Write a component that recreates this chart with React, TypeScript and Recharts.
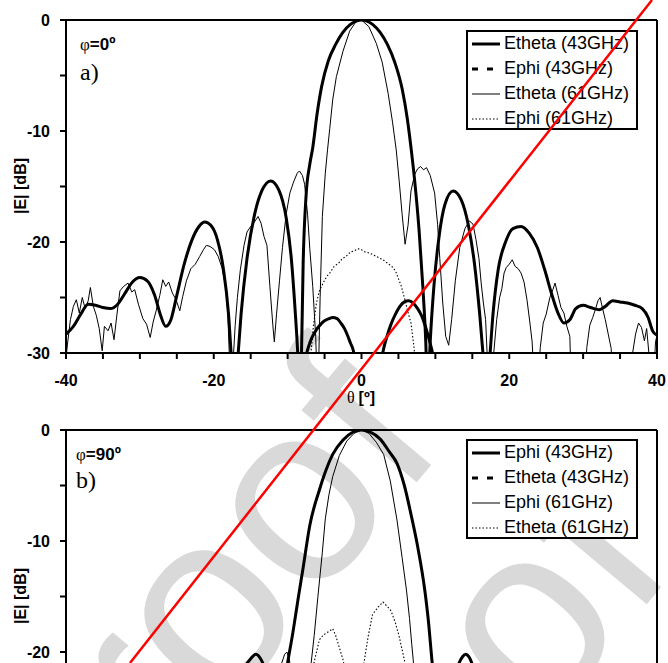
import { LineChart, Line, XAxis, YAxis, ReferenceLine } from 'recharts';

const SANS = '"Liberation Sans", Arial, sans-serif';
const SERIF = '"Liberation Serif", "Times New Roman", serif';

type Row = [number, number | null];

const X_TICKS = [-40, -35, -30, -25, -20, -15, -10, -5, 0, 5, 10, 15, 20, 25, 30, 35, 40];
const Y_TICKS = [0, -5, -10, -15, -20, -25, -30];

// phi = 0 deg cut, theta [deg] vs |E| [dB]
const ETHETA_43_PHI0: Row[] = [
  [-40, -28.3], [-39, -27.6], [-38, -26.5], [-37, -25.6], [-36, -25.7], [-35, -25.9], [-34, -26.0],
  [-33, -25.6], [-32, -24.6], [-31, -23.6], [-30, -23.2], [-29, -23.5], [-28, -24.8], [-27.2, -26.6],
  [-26.5, -27.6], [-25.8, -27.0], [-25, -24.8], [-24, -22.0], [-23, -19.9], [-22, -18.6], [-21.2, -18.2],
  [-20.4, -18.5], [-19.5, -19.8], [-18.7, -22.4], [-18.0, -26.5], [-17.6, -30.5], [-17.2, -34],
  [-16.8, -31], [-16.3, -26.5], [-15.5, -21.5], [-14.5, -17.6], [-13.5, -15.4], [-12.3, -14.5],
  [-11.2, -15.3], [-10.2, -17.8], [-9.5, -21.5], [-9.0, -26], [-8.6, -30.5], [-8.4, -34],
  [-8.15, -31], [-7.9, -22], [-7.5, -15.8], [-7, -13], [-6.6, -11.5], [-6, -8.4], [-5.4, -6.0],
  [-4.5, -3.7], [-3.5, -2.2], [-2.5, -1.1], [-1.5, -0.4], [0, 0], [1.5, -0.4], [2.5, -1.1],
  [3.5, -2.2], [4.5, -3.8], [5.5, -6.2], [6.2, -8.9], [6.7, -11.5], [7.2, -14.5], [7.8, -19],
  [8.3, -24], [8.7, -29], [8.95, -34], [9.3, -29], [9.8, -24], [10.5, -19.5], [11.3, -16.6],
  [12.4, -15.4], [13.5, -16.2], [14.5, -18.6], [15.3, -22], [16, -26.5], [16.5, -30.5], [16.9, -34],
  [17.3, -31], [17.8, -26.5], [18.5, -22.5], [19.5, -20], [20.5, -18.8], [21.6, -18.6], [22.7, -19.2],
  [23.8, -20.5], [24.8, -22.5], [25.7, -24.6], [26.6, -26.4], [27.4, -27.3], [28.2, -27.0], [29, -26.0],
  [30, -25.7], [31, -25.9], [32.2, -26.1], [33, -25.8], [34, -25.3], [35, -25.4], [36, -25.5],
  [37, -25.7], [38, -26.0], [38.8, -26.8], [39.4, -28.0], [40, -28.4],
];

const EPHI_43_PHI0: Row[] = [
  [-7.8, -31], [-7.2, -29.5], [-6.7, -28.6], [-6.1, -27.9], [-5.5, -27.4], [-5, -27.1], [-4.4, -26.9],
  [-3.9, -26.8], [-3.3, -26.9], [-2.8, -27.3], [-2.3, -27.8], [-1.9, -28.4], [-1.5, -29.1], [-1.1, -29.8],
  [-0.8, -31], [1, null], [2.6, -31], [3.0, -29.6], [3.5, -28.4], [4.0, -27.4], [4.6, -26.5],
  [5.2, -25.8], [5.8, -25.4], [6.4, -25.3], [7.0, -25.5], [7.6, -26.0], [8.1, -26.6], [8.6, -27.5],
  [9.0, -28.4], [9.4, -29.4], [9.8, -30.5],
];

const ETHETA_61_PHI0: Row[] = [
  [-40, -30.5], [-39.8, -29.2], [-39.4, -27], [-39, -25.8], [-38.6, -25.2], [-38.2, -26.4], [-37.8, -25.0],
  [-37.4, -26.0], [-37, -25.3], [-36.7, -24.1], [-36.3, -25.8], [-35.9, -26.6], [-35.5, -27.8],
  [-35.1, -29.8], [-34.8, -27.6], [-34.3, -28.0], [-33.9, -27.3], [-33.5, -28.8], [-33.1, -26.5],
  [-32.7, -24.4], [-32.2, -24.0], [-31.6, -23.7], [-31.1, -24.5], [-30.7, -24.3], [-30.2, -25.6],
  [-29.6, -26.9], [-29.1, -27.4], [-28.6, -28.6], [-28.2, -27.2], [-27.8, -26.2], [-27.3, -24.8],
  [-26.9, -23.4], [-26.5, -24.0], [-26.1, -23.6], [-25.6, -24.6], [-25.1, -25.2], [-24.6, -26.2],
  [-24.2, -24.9], [-23.7, -23.5], [-23.1, -22.4], [-22.5, -22.0], [-21.9, -21.3], [-21.4, -20.7],
  [-21.0, -20.3], [-20.5, -20.4], [-19.9, -20.7], [-19.4, -21.3], [-18.9, -22.3], [-18.4, -24.0],
  [-18.1, -26.4], [-17.9, -30], [-17.7, -33], [-17.4, -31], [-17.1, -27.5], [-16.8, -25], [-16.4, -22.5],
  [-15.9, -20.3], [-15.5, -19.1], [-15, -18.6], [-14.5, -18.2], [-14, -17.7], [-13.6, -18.3],
  [-13.2, -19.5], [-12.8, -20.3], [-12.4, -24], [-12, -27.5], [-11.8, -29], [-11.5, -26.5],
  [-11.1, -23.5], [-10.7, -20.5], [-10.2, -17.5], [-9.7, -15.6], [-9.2, -14.6], [-8.7, -13.8],
  [-8.4, -13.6], [-8.0, -14.0], [-7.7, -14.8], [-7.3, -17.5], [-7.0, -20.6], [-6.6, -24], [-6.2, -28.5],
  [-6.0, -33], [-5.8, -31], [-5.6, -25], [-5.3, -17.7], [-4.9, -13.8], [-4.6, -11.7], [-4.3, -9.8],
  [-3.9, -7.2], [-3.4, -5.1], [-2.5, -2.8], [-1.6, -1.0], [-0.8, -0.2], [0, 0], [1, -0.6], [2, -2.1],
  [2.8, -3.8], [3.6, -6.6], [4.2, -9.2], [4.7, -11.7], [5.1, -14.5], [5.5, -17.5], [5.9, -20.2],
  [6.3, -18.5], [6.7, -15.4], [7.2, -13.9], [7.6, -13.4], [8.0, -13.2], [8.4, -13.5], [8.8, -13.3],
  [9.3, -14.0], [9.9, -15.6], [10.3, -18.4], [10.6, -21.5], [11.0, -25.5], [11.4, -28.5], [11.8, -29.3],
  [12.2, -27], [12.7, -23.5], [13.3, -20.5], [14, -18.8], [14.6, -18.1], [15.1, -18.4], [15.5, -19.8],
  [15.9, -21.5], [16.2, -23.7], [16.5, -25.5], [16.8, -27], [17.0, -30], [17.2, -33], [17.6, -33],
  [17.9, -30], [18.3, -27], [18.7, -25], [19.0, -24.2], [19.3, -22.8], [19.6, -22.3], [20.0, -22.0],
  [20.4, -21.6], [20.8, -22.2], [21.2, -22.4], [21.6, -22.8], [22.0, -23.6], [22.4, -25.2],
  [22.8, -27.3], [23.1, -29], [23.4, -33], [23.9, -33], [24.2, -29.5], [24.6, -27.3], [25.0, -26.5],
  [25.5, -25.0], [25.9, -24.3], [26.2, -23.7], [26.6, -24.8], [27.0, -25.9], [27.4, -26.4],
  [27.8, -27.6], [28.2, -28.5], [28.4, -33], [30.2, -33], [30.5, -29.5], [30.9, -27.5], [31.3, -26.8],
  [31.7, -26.0], [32.0, -25.3], [32.3, -25.0], [32.6, -25.9], [33.0, -27.0], [33.4, -28.3],
  [33.8, -29.6], [34.0, -33], [36.4, -33], [36.7, -30], [37.1, -28.3], [37.5, -27.3], [37.9, -27.7],
  [38.3, -28.9], [38.6, -27.8], [38.9, -30], [39.1, -33], [39.5, -33], [39.8, -29], [40, -28.4],
];

const EPHI_61_PHI0: Row[] = [
  [-7.2, -31], [-6.8, -29.7], [-6.5, -27.5], [-6.1, -25.5], [-5.7, -24.4], [-5.2, -23.7], [-4.7, -23.1],
  [-4.3, -22.8], [-3.7, -22.2], [-3.1, -21.9], [-2.6, -21.5], [-2.1, -21.3], [-1.5, -20.9], [-1.0, -20.8],
  [-0.5, -20.6], [0, -20.7], [0.5, -20.9], [1.1, -21.0], [1.7, -21.2], [2.3, -21.4], [2.9, -21.6],
  [3.5, -21.9], [4.1, -22.2], [4.6, -22.6], [5.0, -23.3], [5.4, -24.0], [5.8, -25.0], [6.1, -25.8],
  [6.4, -26.6], [6.7, -27.3], [6.9, -28.4], [7.1, -29.4], [7.3, -31],
];

// phi = 90 deg cut
const EPHI_43_PHI90: Row[] = [
  [-17, -23.5], [-16, -21.6], [-15, -20.6], [-14.3, -20.2], [-13.5, -20.8], [-12.8, -22], [-12, -23.6],
  [-11.2, -25.5], [-10.6, -23.8], [-10, -21], [-9.3, -18.3], [-8.6, -15.3], [-7.9, -12.4], [-7.0, -8.6],
  [-5.7, -5.4], [-4.8, -3.6], [-3.9, -2.2], [-2.5, -0.9], [-1.2, -0.2], [0, 0], [1.2, -0.2], [2.5, -0.8],
  [3.8, -2.0], [4.8, -3.0], [5.8, -5.0], [6.7, -7.6], [7.6, -10.5], [8.6, -14.6], [9.1, -17.5],
  [9.5, -20.5], [9.9, -23], [10.6, -25.8], [11.5, -25], [12.3, -23], [13.2, -21], [13.7, -20.4],
  [14.1, -20.2], [14.6, -20.5], [15.2, -21.5], [16, -23.5],
];

const ETHETA_43_PHI90: Row[] = [];

const EPHI_61_PHI90: Row[] = [
  [-11.3, -23], [-10.8, -21], [-10.4, -20.2], [-10.1, -20.0], [-9.8, -20.6], [-9.3, -22.5], [-8.5, -25],
  [-7.6, -24], [-7.2, -22.6], [-6.8, -20.9], [-6.4, -18.5], [-5.9, -15], [-5.3, -11], [-4.9, -8.0],
  [-4.4, -5.8], [-3.9, -4.2], [-3.0, -2.3], [-2, -1.0], [-1, -0.3], [0, 0], [1, -0.3], [2, -1.1],
  [3, -2.2], [3.9, -4.6], [4.8, -8.1], [5.5, -11.5], [6.1, -14.5], [6.5, -17], [6.8, -19.3],
  [7.0, -20.7], [7.3, -24],
];

const ETHETA_61_PHI90: Row[] = [
  [-7.2, -23.5], [-6.8, -22], [-6.3, -20.6], [-5.7, -18.9], [-5.2, -18.5], [-4.8, -18.3], [-4.3, -18.1],
  [-3.9, -17.9], [-3.5, -18.5], [-3.0, -19.6], [-2.5, -20.7], [-2.0, -22.3], [-1.2, -24.5], [-0.3, -23],
  [0.4, -20.7], [0.9, -18.6], [1.5, -16.6], [2.2, -16.0], [2.9, -15.5], [3.5, -15.9], [4.0, -16.3],
  [4.6, -17.4], [5.1, -18.6], [5.8, -20.7], [6.4, -23],
];

type Series = {
  name: string;
  rows: Row[];
  width: number;
  dash?: string;
  legendDash?: string;
  curve: 'monotone' | 'linear';
};

const THICK = { width: 3, curve: 'monotone' as const };
const THIN = { width: 1, curve: 'linear' as const };
const DOTTED = { width: 1.1, dash: '1.5 2', legendDash: '1.5 2', curve: 'linear' as const };

const PHI0_SERIES: Series[] = [
  { name: 'Etheta (43GHz)', rows: ETHETA_43_PHI0, ...THICK },
  { name: 'Ephi (43GHz)', rows: EPHI_43_PHI0, ...THICK, legendDash: '6 9' },
  { name: 'Etheta (61GHz)', rows: ETHETA_61_PHI0, ...THIN },
  { name: 'Ephi (61GHz)', rows: EPHI_61_PHI0, ...DOTTED },
];

const PHI90_SERIES: Series[] = [
  { name: 'Ephi (43GHz)', rows: EPHI_43_PHI90, ...THICK },
  { name: 'Etheta (43GHz)', rows: ETHETA_43_PHI90, ...THICK, legendDash: '6 9' },
  { name: 'Ephi (61GHz)', rows: EPHI_61_PHI90, ...THIN },
  { name: 'Etheta (61GHz)', rows: ETHETA_61_PHI90, ...DOTTED },
];

const toPoints = (rows: Row[]) => rows.map(([theta, db]) => ({ theta, db }));

const tickStyle = { fill: '#000', fontSize: 16, fontWeight: 'bold', fontFamily: SANS };
const axisStroke = { stroke: '#000', strokeWidth: 2 };

function PatternPanel({ series, top }: { series: Series[]; top: number }) {
  return (
    <div style={{ position: 'absolute', left: 0, top }}>
      <LineChart width={668} height={400} margin={{ top: 20, right: 11, bottom: 0, left: 0 }}>
        <XAxis
          type="number"
          dataKey="theta"
          domain={[-40, 40]}
          ticks={X_TICKS}
          interval={0}
          allowDataOverflow
          height={47}
          axisLine={axisStroke}
          tickLine={axisStroke}
          tickSize={6}
          tickMargin={16}
          tick={tickStyle}
          tickFormatter={(v: number) => (v % 20 === 0 ? String(v) : '')}
        />
        <YAxis
          type="number"
          domain={[-30, 0]}
          ticks={Y_TICKS}
          interval={0}
          allowDataOverflow
          width={66}
          axisLine={axisStroke}
          tickLine={axisStroke}
          tickSize={6}
          tickMargin={10}
          tick={tickStyle}
          tickFormatter={(v: number) => (v % 10 === 0 ? String(v) : '')}
        />
        <ReferenceLine y={0} stroke="#000" strokeWidth={2} />
        <ReferenceLine x={40} stroke="#000" strokeWidth={2} />
        {series.map((s) => (
          <Line
            key={s.name}
            data={toPoints(s.rows)}
            dataKey="db"
            type={s.curve}
            stroke="#000"
            strokeWidth={s.width}
            strokeDasharray={s.dash}
            dot={false}
            activeDot={false}
            isAnimationActive={false}
          />
        ))}
      </LineChart>
    </div>
  );
}

function LegendBox({ series, left, top }: { series: Series[]; left: number; top: number }) {
  return (
    <div
      style={{
        position: 'absolute', left, top, width: 172, height: 100, boxSizing: 'border-box',
        border: '2px solid #000', background: '#fff', fontFamily: SANS, fontSize: 18, color: '#000',
      }}
    >
      {series.map((s, i) => (
        <div
          key={s.name}
          style={{ position: 'absolute', left: 4, top: -1 + i * 25, height: 25, display: 'flex', alignItems: 'center', whiteSpace: 'nowrap' }}
        >
          <svg width={28} height={10} style={{ display: 'block' }}>
            <line x1={0} x2={28} y1={5} y2={5} stroke="#000" strokeWidth={s.width} strokeDasharray={s.legendDash} />
          </svg>
          <span style={{ marginLeft: 4, lineHeight: '25px' }}>{s.name}</span>
        </div>
      ))}
    </div>
  );
}

function PanelLabels() {
  return (
    <svg width={668} height={663} style={{ position: 'absolute', left: 0, top: 0, pointerEvents: 'none' }}>
      <text x={80} y={50} fontSize={17} fill="#000">
        <tspan fontFamily={SERIF}>φ</tspan>
        <tspan fontFamily={SANS} fontWeight="bold">=0º</tspan>
      </text>
      <text x={80} y={80} fontSize={24} fontFamily={SERIF} fill="#000">a)</text>
      <text x={76} y={460} fontSize={17} fill="#000">
        <tspan fontFamily={SERIF}>φ</tspan>
        <tspan fontFamily={SANS} fontWeight="bold">=90º</tspan>
      </text>
      <text x={76} y={488} fontSize={24} fontFamily={SERIF} fill="#000">b)</text>
      <text x={361} y={403} fontSize={16} textAnchor="middle" fill="#000">
        <tspan fontFamily={SERIF}>θ </tspan>
        <tspan fontFamily={SANS} fontWeight="bold">[º]</tspan>
      </text>
      <text transform="translate(26,186) rotate(-90)" textAnchor="middle" fontSize={16} fontWeight="bold" fontFamily={SANS} fill="#000">|E| [dB]</text>
      <text transform="translate(26,596) rotate(-90)" textAnchor="middle" fontSize={16} fontWeight="bold" fontFamily={SANS} fill="#000">|E| [dB]</text>
    </svg>
  );
}

export default function App() {
  return (
    <div style={{ position: 'fixed', left: 0, top: 0, width: 668, height: 663, overflow: 'hidden', background: '#fff' }}>
      {/* page watermark, behind the plots */}
      <svg width={668} height={663} style={{ position: 'absolute', left: 0, top: 0 }}>
        <text transform="translate(56,912) rotate(-50)" fontFamily={SANS} fontSize={255} fill="#d9d9d9">Proof</text>
        <text transform="translate(286,1034) rotate(-50)" fontFamily={SANS} fontSize={255} fill="#d9d9d9">Proof</text>
      </svg>
      <PatternPanel series={PHI0_SERIES} top={0} />
      <PatternPanel series={PHI90_SERIES} top={410} />
      <PanelLabels />
      <LegendBox series={PHI0_SERIES} left={466} top={30} />
      <LegendBox series={PHI90_SERIES} left={466} top={439} />
      <svg width={668} height={663} style={{ position: 'absolute', left: 0, top: 0, pointerEvents: 'none' }}>
        <line x1={652} y1={0} x2={130} y2={663} stroke="#ff0000" strokeWidth={2.5} />
      </svg>
    </div>
  );
}
